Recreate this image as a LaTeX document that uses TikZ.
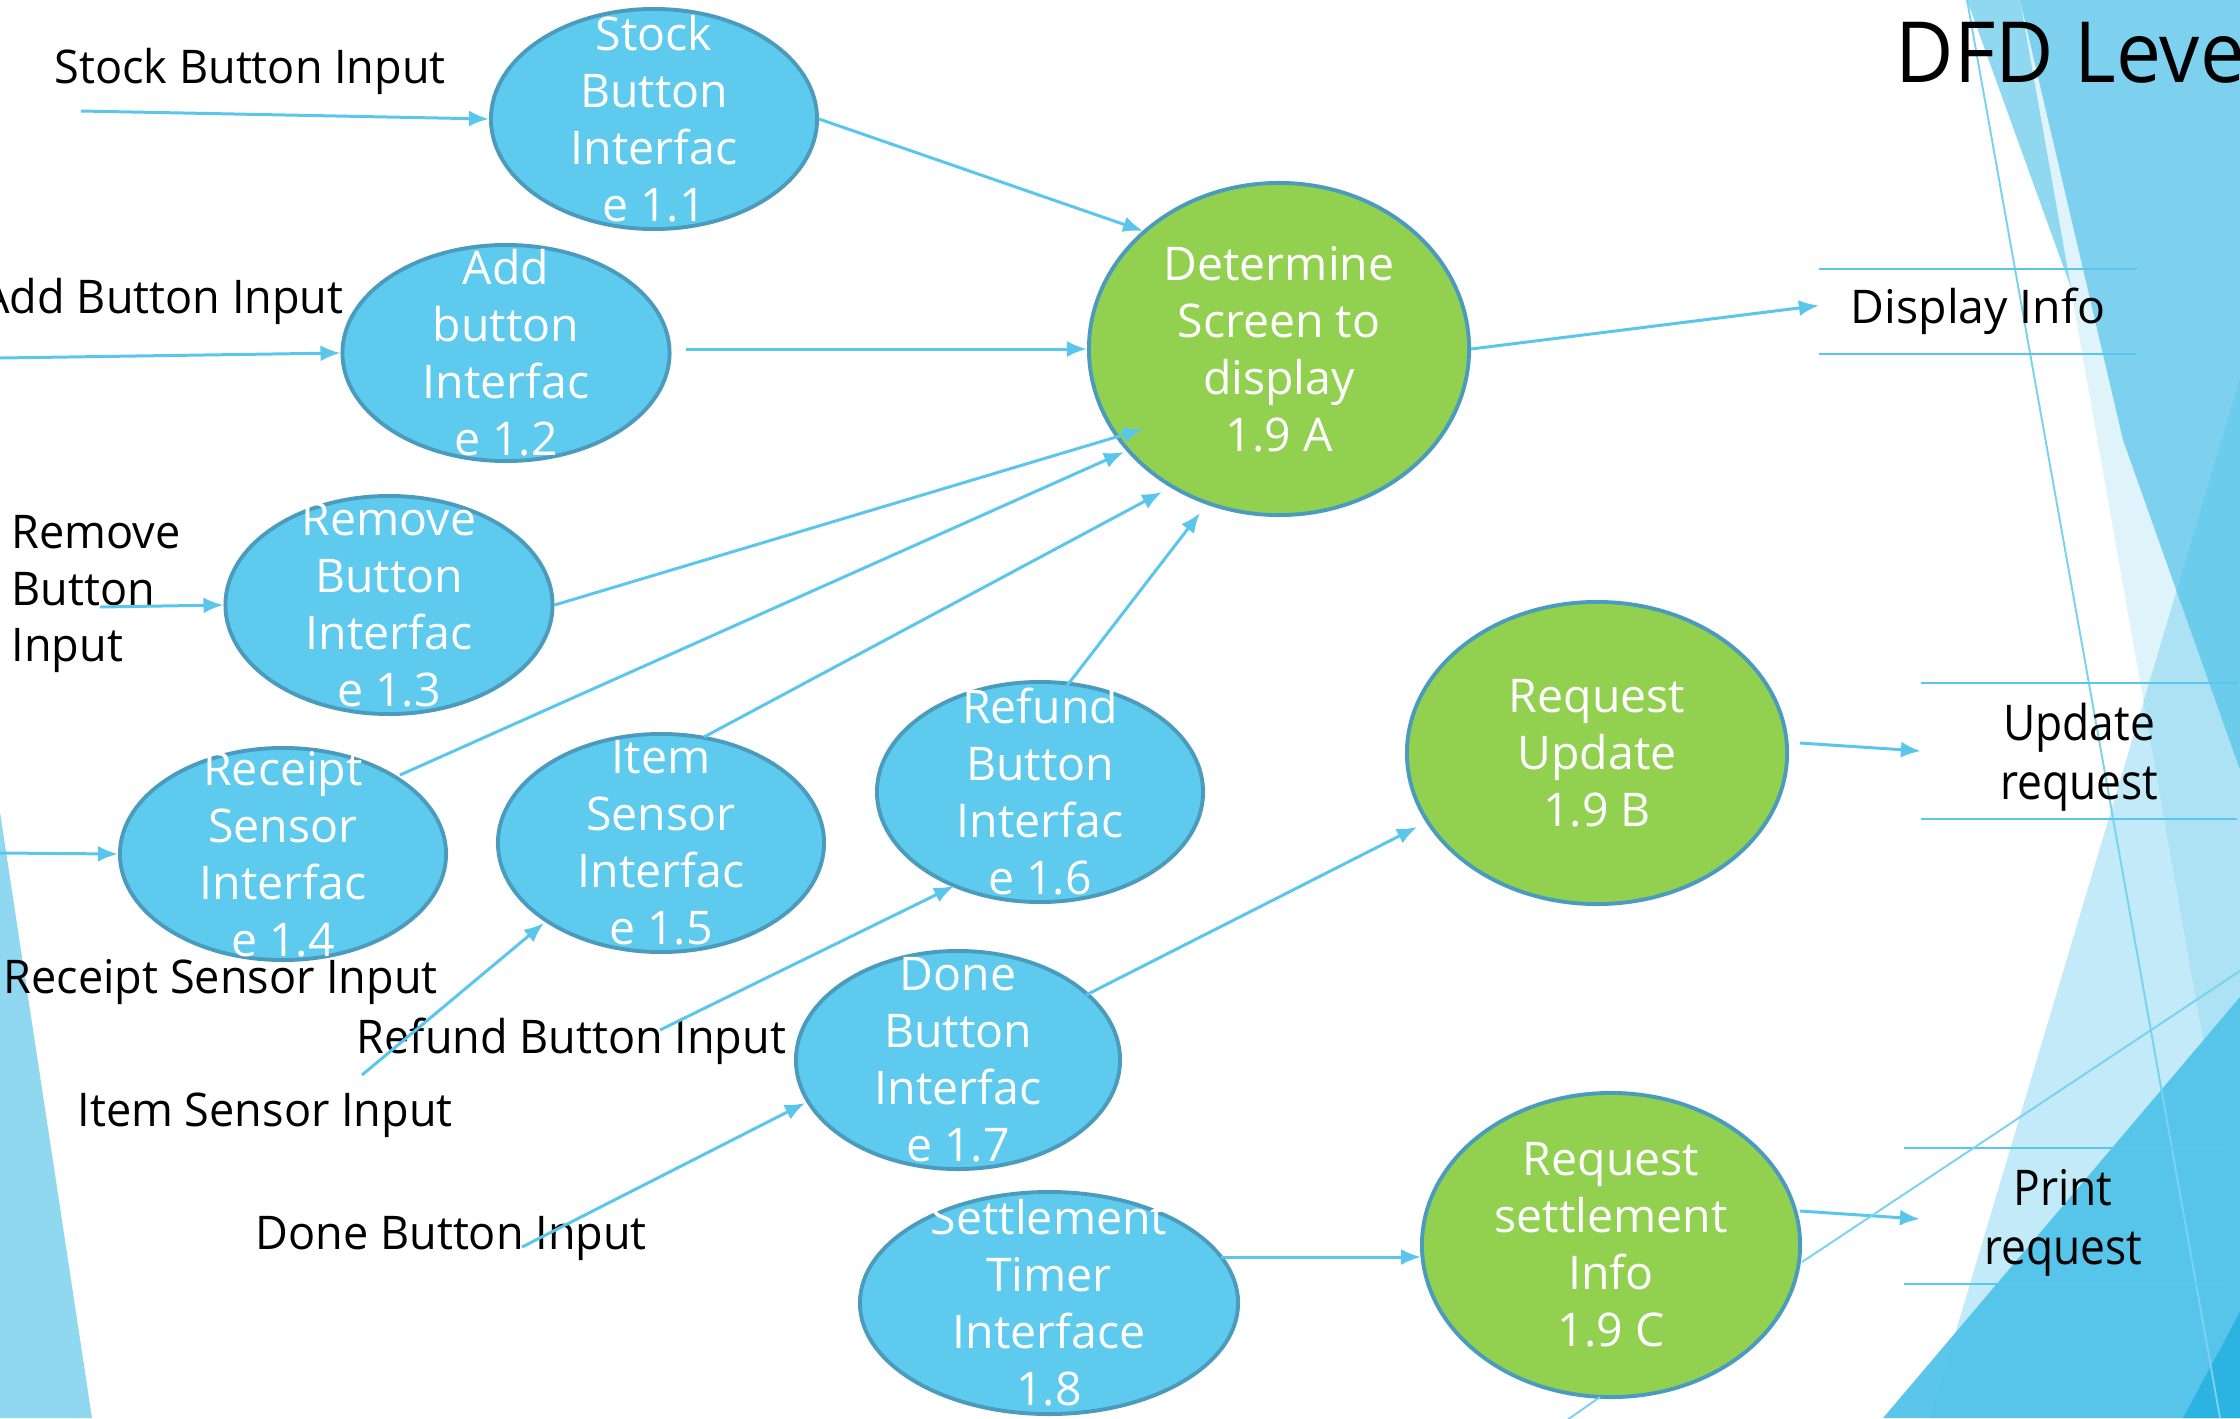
\documentclass[tikz,border=0pt]{standalone}
\usepackage{fontspec}
\setmainfont{Open Sans}
\newfontfamily\segfont{Open Sans}[FakeStretch=0.9]
\newfontfamily\lblfont{Open Sans}[FakeStretch=0.97]
\newfontfamily\titlefont{Open Sans}[FakeStretch=0.95]
\usetikzlibrary{shapes.geometric,arrows.meta,calc}
\definecolor{nodeblue}{HTML}{5ECAEE}
\definecolor{nodegreen}{HTML}{92D050}
\definecolor{nodeborder}{HTML}{4A9BBD}
\definecolor{flowblue}{HTML}{5BC6EC}
\definecolor{bgL}{HTML}{8FD8F0}
\definecolor{bgV}{HTML}{DFF3FA}
\definecolor{bgD}{HTML}{7DD1EE}
\definecolor{bgB}{HTML}{5CC6EA}
\definecolor{bgU}{HTML}{4FC3EA}
\definecolor{bgK}{HTML}{2BB3E2}
\definecolor{thinline}{HTML}{78D2F0}
\tikzset{
  bnode/.style={ellipse, draw=nodeborder, fill=nodeblue, line width=1.1pt, inner sep=0pt},
  gnode/.style={ellipse, draw=nodeborder, fill=nodegreen, line width=1.1pt, inner sep=0pt},
  ntext/.style={text=white, align=center, inner sep=0pt, font=\fontsize{13.2}{16.2}\selectfont},
  flow/.style={draw=flowblue, line width=0.85pt, -{Latex[length=0.2cm,width=0.16cm]}},
  thin/.style={draw=thinline, line width=0.55pt},
  lbl/.style={text=black, inner sep=0pt, font=\lblfont\fontsize{13.2}{16.2}\selectfont},
  storebox/.style={inner sep=0pt, outer sep=0pt},
  storetext/.style={text=black, align=center, inner sep=0pt},
  storeline/.style={draw=flowblue, line width=0.8pt}
}
\begin{document}
\begin{tikzpicture}[x=0.01cm, y=-0.01cm]
\useasboundingbox (0,0) rectangle (2240,1418);
\clip (0,0) rectangle (2240,1418);
% ---------- background facets
\fill[bgL] (0,812) -- (92,1418) -- (0,1418) -- cycle;
\fill[bgV] (2020,0) -- (2240,0) -- (2240,1250) -- cycle;
\fill[bgL] (1967,0) -- (2020,0) -- (2071,288) -- cycle;
\fill[bgD] (2020,0) -- (2240,0) -- (2240,770) -- (2123,440) -- cycle;
\fill[bgB] (1883,1418) -- (2240,997) -- (2240,1418) -- cycle;
\fill[bgU, opacity=0.35] (1930,1418) -- (2240,378) -- (2240,1418) -- cycle;
\fill[bgK] (2183,1418) -- (2240,1312) -- (2240,1418) -- cycle;
\draw[thin] (1967,0) -- (2220,1418);
% ---------- title
\node[anchor=base west, inner sep=0pt, font=\titlefont\fontsize{24}{28}\selectfont] (title) at (1895,82) {DFD Leve};
% ---------- process nodes
\node[bnode, minimum width=3.26cm, minimum height=2.2cm, label={[ntext]center:Stock\\Button\\Interfac\\e 1.1}] (n11) at (654,119) {};
\node[bnode, minimum width=3.27cm, minimum height=2.16cm, label={[ntext]center:Add\\button\\Interfac\\e 1.2}] (n12) at (506,353) {};
\node[bnode, minimum width=3.27cm, minimum height=2.18cm, label={[ntext]center:Remove\\Button\\Interfac\\e 1.3}] (n13) at (389,605) {};
\node[bnode, minimum width=3.26cm, minimum height=2.12cm, label={[ntext]center:Receipt\\Sensor\\Interfac\\e 1.4}] (n14) at (283,854) {};
\node[bnode, minimum width=3.26cm, minimum height=2.18cm, label={[ntext]center:Item\\Sensor\\Interfac\\e 1.5}] (n15) at (661,843) {};
\node[bnode, minimum width=3.26cm, minimum height=2.2cm, label={[ntext]center:Refund\\Button\\Interfac\\e 1.6}] (n16) at (1040,792) {};
\node[bnode, minimum width=3.24cm, minimum height=2.18cm, label={[ntext]center:Done\\Button\\Interfac\\e 1.7}] (n17) at (958,1060) {};
\node[bnode, minimum width=3.78cm, minimum height=2.22cm, label={[ntext]center:Settlement\\Timer\\Interface\\1.8}] (n18) at (1049,1303) {};
\node[gnode, minimum width=3.8cm, minimum height=3.32cm, label={[ntext]center:Determine\\Screen to\\display\\1.9 A}] (n9a) at (1279,349) {};
\node[gnode, minimum width=3.8cm, minimum height=3.02cm, label={[ntext]center:Request\\Update\\1.9 B}] (n9b) at (1597,753) {};
\node[gnode, minimum width=3.78cm, minimum height=3.04cm, label={[ntext]center:Request\\settlement\\Info\\1.9 C}] (n9c) at (1611,1245) {};
% ---------- data stores
\node[storebox, minimum width=3.18cm, minimum height=0.85cm,
      label={[storetext, font=\fontsize{13.2}{16.2}\selectfont]center:Display Info}] (dinfo) at (1978,311.5) {};
\node[storebox, minimum width=3.16cm, minimum height=1.36cm,
      label={[storetext, yshift=-0.06cm, font=\segfont\fontsize{14}{16.8}\selectfont]center:Update\\request}] (ureq) at (2079,751) {};
\node[storebox, minimum width=3.18cm, minimum height=1.36cm,
      label={[storetext, yshift=-0.07cm, font=\segfont\fontsize{14}{16.8}\selectfont]center:Print\\request}] (preq) at (2063,1216) {};
\draw[storeline] (dinfo.north west) -- (dinfo.north east) (dinfo.south west) -- (dinfo.south east);
\draw[storeline] (ureq.north west) -- (ureq.north east) (ureq.south west) -- (ureq.south east);
\draw[storeline] (preq.north west) -- (preq.north east) (preq.south west) -- (preq.south east);
% ---------- external input labels
\node[lbl, anchor=base west] (t1) at (54,83) {Stock Button Input};
\node[lbl, anchor=base east] (t2) at (344,313) {Add Button Input};
\node[lbl, anchor=west, align=left] (t3) at (11,594) {Remove\\Button\\Input};
\node[lbl, anchor=base west] (t4) at (3,993) {Receipt Sensor Input};
\node[lbl, anchor=base west] (t5) at (356,1053) {Refund Button Input};
\node[lbl, anchor=base west] (t6) at (77,1126) {Item Sensor Input};
\node[lbl, anchor=base west] (t7) at (255,1249) {Done Button Input};
% ---------- input flows
\coordinate (s11) at (81,111);
\coordinate (s12) at (0,358);
\coordinate (s13) at (100,607);
\coordinate (s14) at (0,853);
\coordinate (s15) at (362,1075);
\coordinate (s16) at (660,1030);
\coordinate (s17) at (522,1247);
\draw[flow] (s11) -- (n11.west);
\draw[flow] (s12) -- (n12.west);
\draw[flow] (s13) -- (n13.west);
\draw[flow] (s14) -- (n14.west);
\draw[flow] (s15) -- ($(n15)+(-117,80)$);
\draw[flow] (s16) -- ($(n16)+(-86,94)$);
\draw[flow] (s17) -- ($(n17)+(-153,43)$);
% ---------- internal flows
\draw[flow] (n11.east) -- ($(n9a)+(-136,-118)$);
\draw[flow] ($(n12)+(180,-4)$) -- (n9a.west);
\draw[flow] (n13.east) -- ($(n9a)+(-136,80)$);
\draw[flow] ($(n14)+(117,-79)$) -- ($(n9a)+(-155,103)$);
\draw[flow] ($(n15)+(43,-106)$) -- ($(n9a)+(-117,143)$);
\draw[flow] ($(n16)+(26,-105)$) -- ($(n9a)+(-79,164)$);
\draw[flow] ($(n17)+(128,-65)$) -- ($(n9b)+(-180,74)$);
\draw[flow] ($(n18)+(172,-46)$) -- ($(n9c)+(-190,12)$);
\draw[flow] (n9a.east) -- ($(dinfo.west)+(0,-6)$);
\draw[flow] ($(n9b)+(203,-10)$) -- (ureq.west);
\draw[flow] ($(n9c)+(189,-34)$) -- ($(preq.west)+(16,3)$);
% ---------- thin outgoing lines
\coordinate (e1) at (2300,931);
\coordinate (e2) at (1550,1432);
\draw[thin] ($(n9c)+(191,17)$) -- (e1);
\draw[thin] ($(n9c)+(-11,152)$) -- (e2);
\end{tikzpicture}
\end{document}
